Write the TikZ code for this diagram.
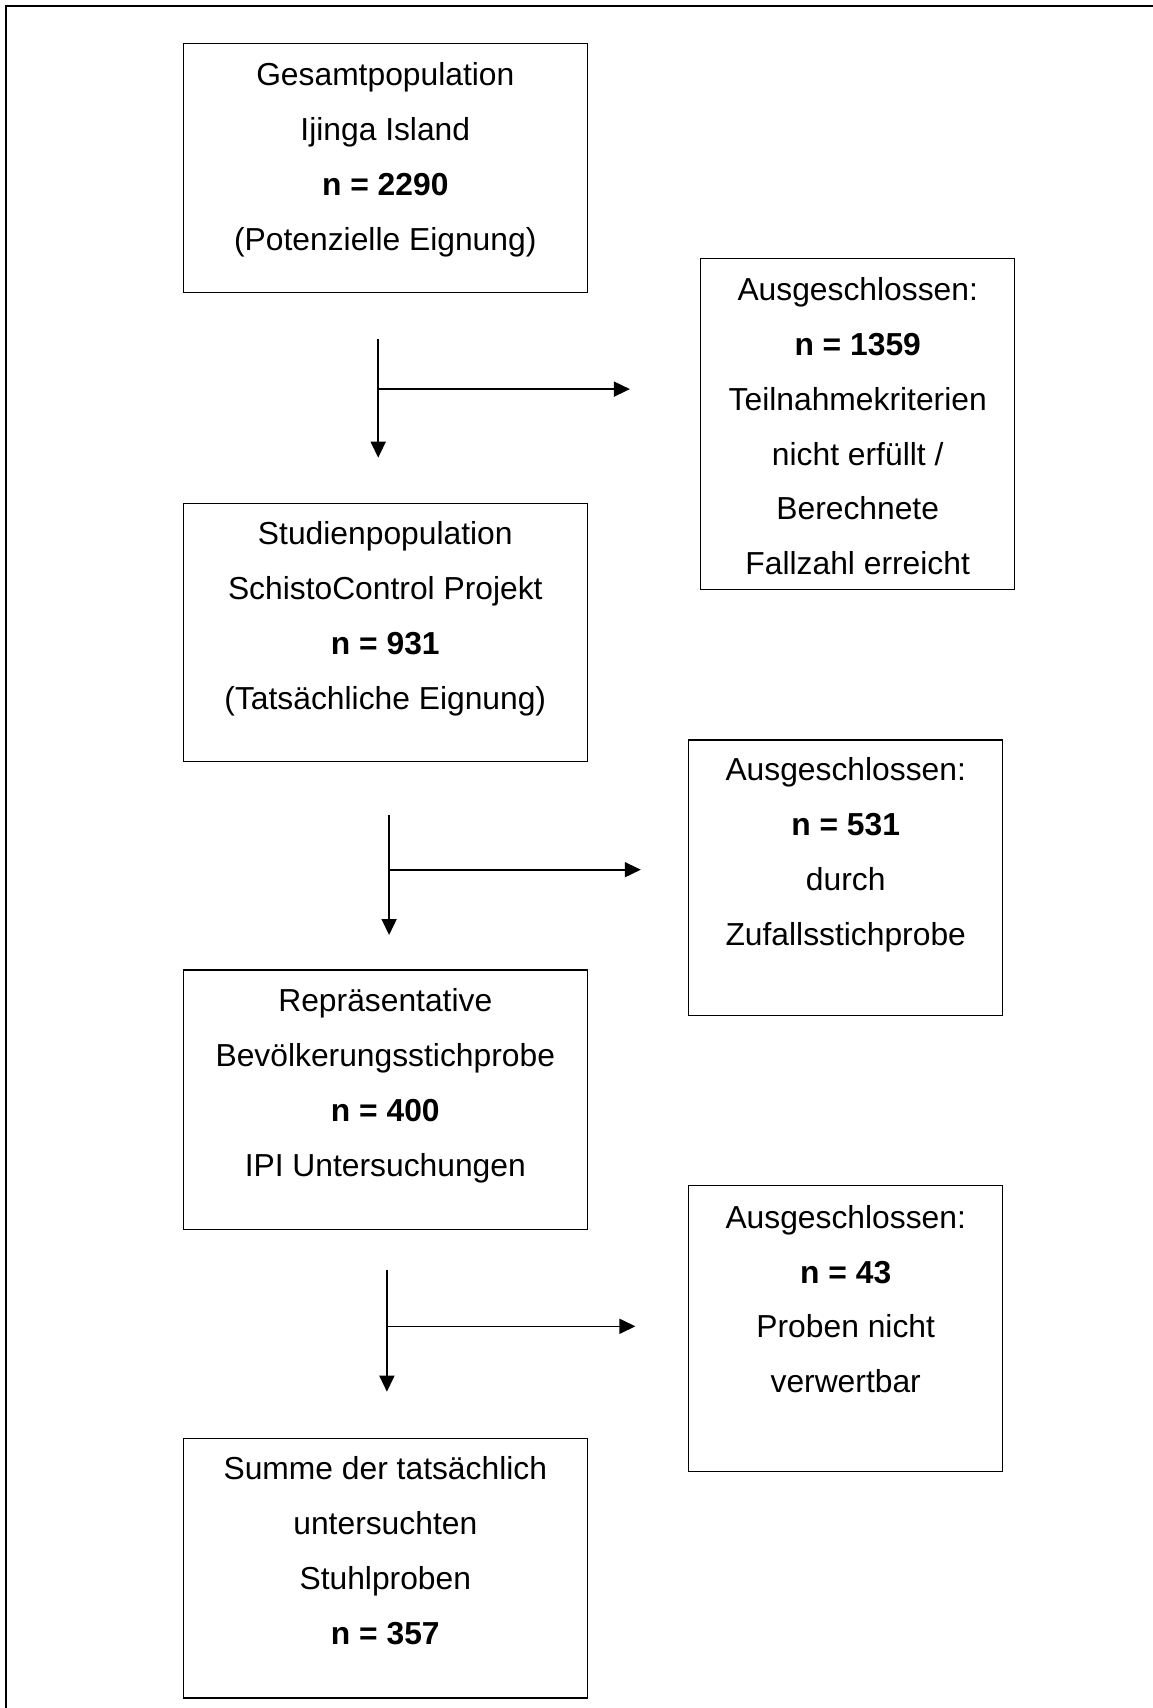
\documentclass[tikz,border=0pt]{standalone}
\usepackage{fontspec}
\setmainfont{Liberation Sans}
\usetikzlibrary{arrows.meta}
\newcommand{\mystrut}{\rule[-0.14em]{0pt}{1em}}
\begin{document}
\begin{tikzpicture}[x=1pt,y=-1pt,
  boxnode/.style={draw, line width=1.2pt, inner sep=0pt},
  mainbox/.style={boxnode, minimum width=404.3pt},
  exclbox/.style={boxnode, minimum width=313.9pt},
  txt/.style={align=center, inner sep=0pt, font=\fontsize{31.8}{54.9}\selectfont},
  flow/.style={line width=1.6pt, -{Triangle[length=16pt,width=15pt]}},
  plain/.style={line width=1.6pt}]
\useasboundingbox (0,0) rectangle (1153,1708);
% outer frame (top and left edges)
\draw[line width=2pt] (1153,6) -- (5.5,6) -- (5.5,1708);

% main boxes
\node[mainbox, minimum height=248.5pt] (b1) at (385.3,167.9) {};
\node[mainbox, minimum height=258.3pt] (b2) at (385.3,632.7) {};
\node[mainbox, minimum height=259.4pt] (b3) at (385.3,1099.6) {};
\node[mainbox, minimum height=259.4pt] (b4) at (385.3,1568.2) {};
% exclusion boxes
\node[exclbox, minimum height=331.3pt] (e1) at (857.7,424) {};
\node[exclbox, minimum height=275.7pt] (e2) at (845.7,877.9) {};
\node[exclbox, minimum height=285.5pt] (e3) at (845.7,1328.5) {};

% texts
\node[txt] (t1) at (385.3,157.5) {\mystrut Gesamtpopulation\\\mystrut Ijinga Island\\\mystrut\textbf{n = 2290}\\\mystrut(Potenzielle Eignung)};
\node[txt] (t2) at (385.3,616.3) {\mystrut Studienpopulation\\\mystrut SchistoControl Projekt\\\mystrut\textbf{n = 931}\\\mystrut(Tatsächliche Eignung)};
\node[txt] (t3) at (385.3,1083.3) {\mystrut Repräsentative\\\mystrut Bevölkerungsstichprobe\\\mystrut\textbf{n = 400}\\\mystrut IPI Untersuchungen};
\node[txt] (t4) at (385.3,1550.8) {\mystrut Summe der tatsächlich\\\mystrut untersuchten\\\mystrut Stuhlproben\\\mystrut\textbf{n = 357}};
\node[txt] (te1) at (857.7,426.1) {\mystrut Ausgeschlossen:\\\mystrut\textbf{n = 1359}\\\mystrut Teilnahmekriterien\\\mystrut nicht erfüllt /\\\mystrut Berechnete\\\mystrut Fallzahl erreicht};
\node[txt] (te2) at (845.7,852.8) {\mystrut Ausgeschlossen:\\\mystrut\textbf{n = 531}\\\mystrut durch\\\mystrut Zufallsstichprobe};
\node[txt] (te3) at (845.7,1299) {\mystrut Ausgeschlossen:\\\mystrut\textbf{n = 43}\\\mystrut Proben nicht\\\mystrut verwertbar};

% connectors
\coordinate (a1top) at (378.2,338.9);
\coordinate (a1tip) at (378.2,457.7);
\coordinate (a1br) at (378.2,389.1);
\coordinate (a1end) at (629.9,389.1);
\coordinate (a2top) at (389.1,815.2);
\coordinate (a2tip) at (389.1,935.0);
\coordinate (a2br) at (389.1,869.7);
\coordinate (a2end) at (640.8,869.7);
\coordinate (a3top) at (386.9,1269.6);
\coordinate (a3tip) at (386.9,1391.7);
\coordinate (a3br) at (386.9,1326.3);
\coordinate (a3end) at (635.4,1326.3);
\draw[flow] (a1top) -- (a1tip);
\draw[flow] (a1br) -- (a1end);
\draw[flow] (a2top) -- (a2tip);
\draw[flow] (a2br) -- (a2end);
\draw[flow] (a3top) -- (a3tip);
\draw[flow] (a3br) -- (a3end);
\end{tikzpicture}
\end{document}
